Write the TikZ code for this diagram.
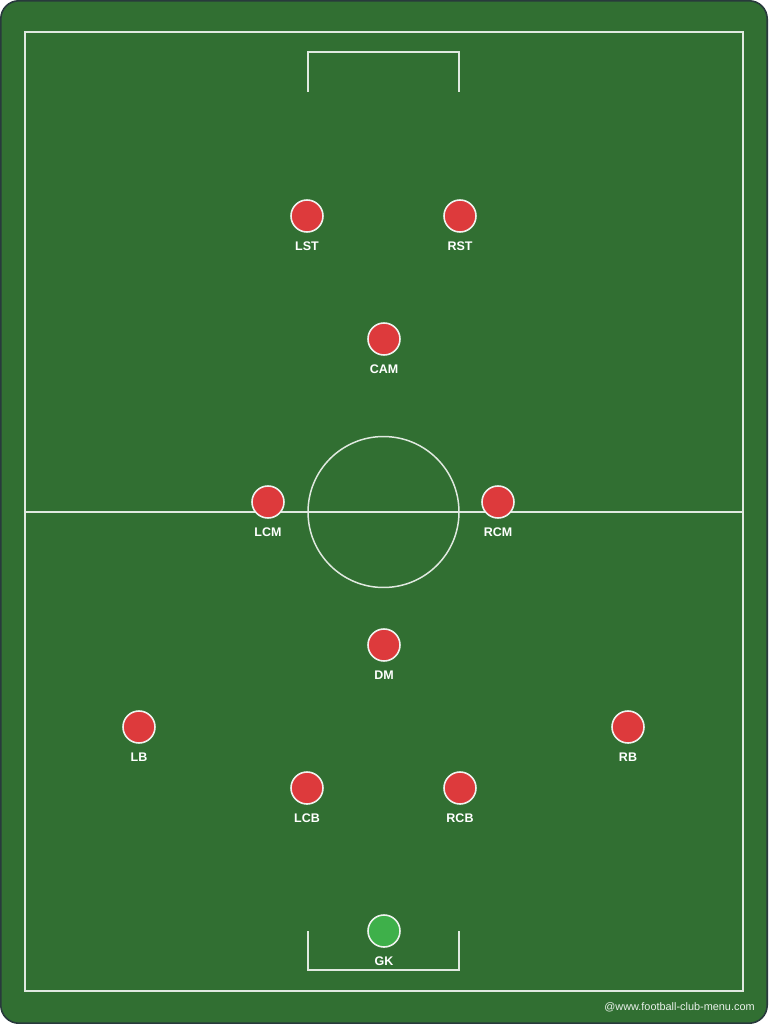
\documentclass[tikz,border=0pt]{standalone}
\usepackage{fontspec}
\setmainfont{Liberation Sans}
\usetikzlibrary{positioning}
\definecolor{pitch}{RGB}{49,111,50}
\definecolor{frame}{RGB}{40,58,60}
\definecolor{playerred}{RGB}{221,58,60}
\definecolor{keeper}{RGB}{62,176,74}
\tikzset{
    line/.style={white!85!pitch, line width=0.85pt},
    player/.style={circle, fill=playerred, draw=white!92!pitch, line width=0.9pt, minimum size=0.64cm, inner sep=0pt},
    keeperdot/.style={player, fill=keeper},
    tag/.style={text=white, font=\bfseries\fontsize{7.1}{8}\selectfont, inner sep=0pt},
}

\begin{document}
\begin{tikzpicture}[x=0.02cm,y=-0.02cm]
    \useasboundingbox (0,0) rectangle (768,1024);
    % pitch
    \filldraw[fill=pitch, draw=frame, line width=0.9pt, rounded corners=0.36cm] (0.8,0.8) rectangle (767.2,1023.2);
    \draw[line] (25,32) rectangle (743,991);
    \draw[line] (25,512) -- (743,512);
    \draw[line] (383.5,512) circle (1.51cm);
    \draw[line] (308,92) -- (308,52) -- (459,52) -- (459,92);
    \draw[line] (308,931) -- (308,970) -- (459,970) -- (459,931);

    % attack
    \node[player] (lst) at (307,216) {};
    \node[player] (rst) at (460,216) {};
    \node[player] (cam) at (384,339) {};
    \node[tag, below=0.17cm of lst] {LST};
    \node[tag, below=0.17cm of rst] {RST};
    \node[tag, below=0.17cm of cam] {CAM};

    % midfield
    \node[player] (lcm) at (268,502) {};
    \node[player] (rcm) at (498,502) {};
    \node[player] (dm) at (384,645) {};
    \node[tag, below=0.17cm of lcm] {LCM};
    \node[tag, below=0.17cm of rcm] {RCM};
    \node[tag, below=0.17cm of dm] {DM};

    % defence
    \node[player] (lb) at (139,727) {};
    \node[player] (rb) at (628,727) {};
    \node[player] (lcb) at (307,788) {};
    \node[player] (rcb) at (460,788) {};
    \node[keeperdot] (gk) at (384,931) {};
    \node[tag, below=0.17cm of lb] {LB};
    \node[tag, below=0.17cm of rb] {RB};
    \node[tag, below=0.17cm of lcb] {LCB};
    \node[tag, below=0.17cm of rcb] {RCB};
    \node[tag, below=0.17cm of gk] {GK};

    \node[text=white!90!pitch, font=\fontsize{6.2}{7}\selectfont, anchor=east, inner sep=0pt] (credit) at (755,1007) {@www.football-club-menu.com};
\end{tikzpicture}
\end{document}
